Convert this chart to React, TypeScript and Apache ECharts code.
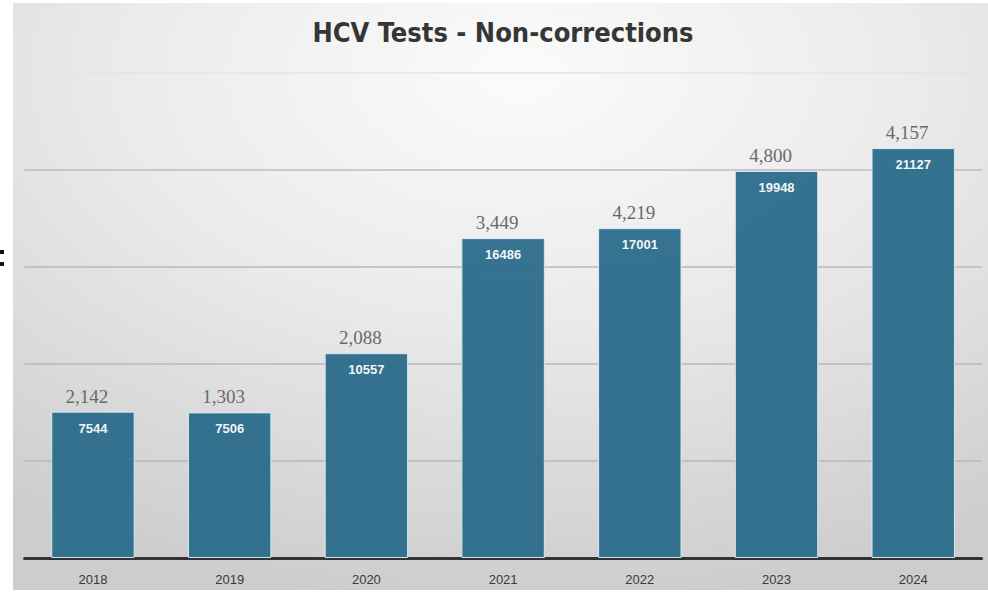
import React, { useEffect, useRef } from "react";
import * as echarts from "echarts";

const categories = ["2018", "2019", "2020", "2021", "2022", "2023", "2024"];
const testCounts = [7544, 7506, 10557, 16486, 17001, 19948, 21127];
const nonCorrectionCounts = [2142, 1303, 2088, 3449, 4219, 4800, 4157];
const titleText = "HCV Tests - Non-corrections";

export default function App() {
  const ref = useRef<HTMLDivElement>(null);
  useEffect(() => {
    if (!ref.current) return;
    const chart = echarts.init(ref.current, undefined, { renderer: "svg" });
    chart.setOption({
      animation: false,
      backgroundColor: "#ffffff",
      graphic: [
        {
          type: "rect",
          z: -10,
          silent: true,
          shape: { x: 13, y: 3, width: 975, height: 587 },
          style: {
            fill: new echarts.graphic.RadialGradient(0.52, 0.12, 0.9, [
              { offset: 0, color: "#fbfbfb" },
              { offset: 0.45, color: "#ebebeb" },
              { offset: 1, color: "#cdcdcd" },
            ]),
          },
        },
        { type: "rect", silent: true, shape: { x: 0, y: 250, width: 4, height: 4 }, style: { fill: "#111" } },
        { type: "rect", silent: true, shape: { x: 0, y: 262, width: 4, height: 4 }, style: { fill: "#111" } },
        {
          type: "text",
          x: 503,
          y: 32,
          style: {
            text: titleText,
            fill: "#363636",
            fontSize: 27,
            fontWeight: "bold",
            fontFamily: "DejaVu Sans Condensed",
            align: "center",
            verticalAlign: "middle",
          },
        },
      ],
      grid: { left: 24.6, right: 6.4, top: 73, bottom: 35 },
      xAxis: {
        type: "category",
        data: categories,
        axisLine: { lineStyle: { color: "#333", width: 3 } },
        axisTick: { show: false },
        axisLabel: {
          color: "#3a3a3a",
          fontSize: 13,
          fontFamily: "Liberation Sans",
          margin: 15,
        },
      },
      yAxis: {
        type: "value",
        min: 0,
        max: 25000,
        interval: 5000,
        axisLabel: { show: false },
        axisLine: { show: false },
        axisTick: { show: false },
        splitLine: {
          lineStyle: {
            color: ["#b9b9b9", "#b9b9b9", "#b9b9b9", "#b9b9b9", "#bdbdbd", "#e4e4e4"],
            width: 1.5,
          },
        },
      },
      series: [
        {
          type: "bar",
          data: testCounts,
          barCategoryGap: "39%",
          itemStyle: {
            color: "#2b6b8b",
            opacity: 0.95,
            borderColor: "#d6ecf4",
            borderWidth: 1,
          },
          label: {
            show: true,
            position: "insideTop",
            distance: 10,
            color: "#ffffff",
            fontSize: 13,
            fontWeight: "bold",
            fontFamily: "Liberation Sans",
          },
        },
        {
          type: "bar",
          data: testCounts,
          barGap: "-100%",
          barCategoryGap: "39%",
          itemStyle: { color: "transparent" },
          label: {
            show: true,
            position: "top",
            distance: 6,
            offset: [-6, 0],
            color: "#6a6a6a",
            fontSize: 19,
            fontFamily: "Liberation Serif",
            formatter: (p: any) => nonCorrectionCounts[p.dataIndex].toLocaleString("en-US"),
          },
        },
      ],
    });
    return () => chart.dispose();
  }, []);
  return (
    <div
      ref={ref}
      style={{ position: "fixed", left: 0, top: 0, width: 988, height: 593 }}
    />
  );
}
